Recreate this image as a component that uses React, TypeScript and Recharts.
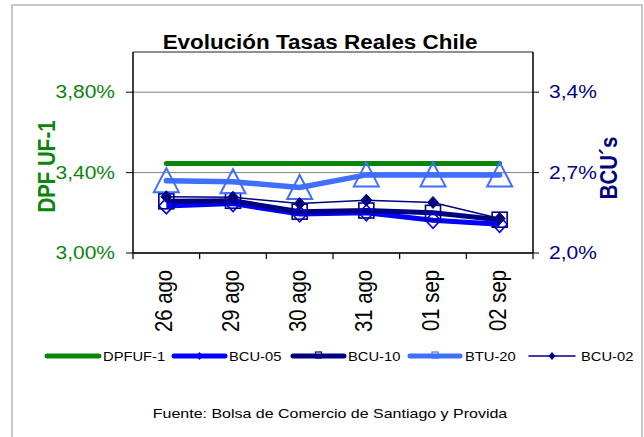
import React from 'react';
import { LineChart, Line, XAxis, YAxis, CartesianGrid, ReferenceLine } from 'recharts';

// ---- data ----
const categories = ['26 ago', '29 ago', '30 ago', '31 ago', '01 sep', '02 sep'];
const dpfUf1 = [3.445, 3.445, 3.445, 3.445, 3.445, 3.445];
const bcu05 = [2.41, 2.43, 2.34, 2.35, 2.285, 2.25];
const bcu10 = [2.45, 2.455, 2.36, 2.37, 2.35, 2.29];
const btu20 = [2.63, 2.62, 2.57, 2.68, 2.68, 2.68];
const bcu02 = [2.49, 2.485, 2.43, 2.46, 2.44, 2.3];
const leftTicks = [3.0, 3.4, 3.8];
const rightTicks = [2.0, 2.7, 3.4];
const leftDomain = [3.0, 4.0];
const rightDomain = [2.0, 3.75];
const seriesNames = ['DPFUF-1', 'BCU-05', 'BCU-10', 'BTU-20', 'BCU-02'];

const data = categories.map((cat, i) => ({
  cat,
  dpf: dpfUf1[i],
  bcu05: bcu05[i],
  bcu10: bcu10[i],
  btu20: btu20[i],
  bcu02: bcu02[i],
}));

const FONT = '"Liberation Sans", Arial, sans-serif';
const GREEN = '#0A850A';
const BLUE = '#0000FF';
const NAVY = '#000080';
const LBLUE = '#3F6FFF';

const fmtLeft = (v: number) => v.toFixed(2).replace('.', ',') + '%';
const fmtRight = (v: number) => v.toFixed(1).replace('.', ',') + '%';

// text with horizontal stretch (the reference is rendered slightly wide)
const SText = (props: any) => {
  const { x, y, sx = 1.2, rotate = 0, children, ...rest } = props;
  const rot = rotate ? ` rotate(${rotate})` : '';
  return (
    <text transform={`translate(${x},${y}) scale(${sx},1)${rot}`} fontFamily={FONT} {...rest}>
      {children}
    </text>
  );
};

const XTick = (props: any) => {
  const { x, y, payload, index, visibleTicksCount } = props;
  const off = payload && typeof payload.offset === 'number' && payload.offset > 0 ? payload.offset : 400 / 12;
  const isLast = index === (visibleTicksCount ?? categories.length) - 1;
  return (
    <g>
      <line x1={x - off} x2={x - off} y1={y} y2={y + 6} stroke="#000" strokeWidth={1.2} />
      {isLast && <line x1={x + off} x2={x + off} y1={y} y2={y + 6} stroke="#000" strokeWidth={1.2} />}
      <SText x={x + 6} y={y + 17} sx={1.15} rotate={-90} textAnchor="end" fontSize={20.3} fill="#000">
        {payload.value}
      </SText>
    </g>
  );
};

const LeftTick = (props: any) => {
  const { x, y, payload } = props;
  return (
    <SText x={x} y={y + 6.2} sx={1.2} textAnchor="end" fontSize={17.5} fill={GREEN}>
      {fmtLeft(payload.value)}
    </SText>
  );
};

const RightTick = (props: any) => {
  const { x, y, payload } = props;
  return (
    <SText x={x} y={y + 6.2} sx={1.2} textAnchor="start" fontSize={17.5} fill={NAVY}>
      {fmtRight(payload.value)}
    </SText>
  );
};

const triDot = (p: any) => {
  const { cx, cy, index } = p;
  if (cx == null || cy == null) return <g key={`t${index}`} />;
  return (
    <polygon
      key={`t${index}`}
      points={`${cx},${cy - 12.5} ${cx + 12.5},${cy + 11.5} ${cx - 12.5},${cy + 11.5}`}
      fill="none"
      stroke={LBLUE}
      strokeWidth={2}
    />
  );
};

const squareDot = (p: any) => {
  const { cx, cy, index } = p;
  if (cx == null || cy == null) return <g key={`s${index}`} />;
  return <rect key={`s${index}`} x={cx - 7.5} y={cy - 7.5} width={15} height={15} fill="none" stroke={NAVY} strokeWidth={1.6} />;
};

const hollowDiamond = (p: any) => {
  const { cx, cy, index } = p;
  if (cx == null || cy == null) return <g key={`d${index}`} />;
  return (
    <polygon
      key={`d${index}`}
      points={`${cx},${cy - 8} ${cx + 7.5},${cy} ${cx},${cy + 8} ${cx - 7.5},${cy}`}
      fill="none"
      stroke={BLUE}
      strokeWidth={1.6}
    />
  );
};

const filledDiamond = (p: any) => {
  const { cx, cy, index } = p;
  if (cx == null || cy == null) return <g key={`f${index}`} />;
  return (
    <polygon
      key={`f${index}`}
      points={`${cx},${cy - 6} ${cx + 5.5},${cy} ${cx},${cy + 6} ${cx - 5.5},${cy}`}
      fill={NAVY}
      stroke={NAVY}
      strokeWidth={1}
    />
  );
};

type LegendItem = { name: string; color: string; width: number; marker: string; lineX: number; lineW: number; textX: number };

const legendItems: LegendItem[] = [
  { name: seriesNames[0], color: GREEN, width: 5, marker: 'none', lineX: 45, lineW: 56, textX: 103 },
  { name: seriesNames[1], color: BLUE, width: 5, marker: 'diamond', lineX: 172, lineW: 55, textX: 229 },
  { name: seriesNames[2], color: NAVY, width: 5, marker: 'square', lineX: 291, lineW: 55, textX: 348 },
  { name: seriesNames[3], color: LBLUE, width: 5, marker: 'square', lineX: 408, lineW: 54, textX: 465 },
  { name: seriesNames[4], color: NAVY, width: 1.5, marker: 'diamond', lineX: 527, lineW: 50, textX: 581 },
];

const LEG_Y = 356;

const Overlay = () => (
  <svg width={644} height={437} style={{ position: 'absolute', left: 0, top: 0 }}>
    <SText x={320} y={49} sx={1.15} textAnchor="middle" fontSize={19.5} fontWeight="bold" fill="#000">
      Evolución Tasas Reales Chile
    </SText>
    <SText x={47 + 7.5} y={166.5} sx={1.2} rotate={-90} textAnchor="middle" fontSize={20.5} fontWeight="bold" fill={GREEN}>
      DPF UF-1
    </SText>
    <SText x={610 + 7} y={168} sx={1.13} rotate={-90} textAnchor="middle" fontSize={20.5} fontWeight="bold" fill={NAVY}>
      BCU´s
    </SText>
    {legendItems.map((it) => {
      const x1 = it.lineX + 2;
      const x2 = it.lineX + it.lineW - 2;
      const mx = it.lineX + it.lineW / 2;
      return (
        <g key={it.name}>
          <line x1={x1} x2={x2} y1={LEG_Y} y2={LEG_Y} stroke={it.color} strokeWidth={it.width} strokeLinecap="round" />
          {it.marker === 'diamond' && (
            <polygon points={`${mx},${LEG_Y - 4} ${mx + 3.5},${LEG_Y} ${mx},${LEG_Y + 4} ${mx - 3.5},${LEG_Y}`} fill={it.color} />
          )}
          {it.marker === 'square' && (
            <rect x={mx - 3} y={LEG_Y - 4} width={6} height={6} fill="none" stroke={it.color} strokeWidth={1.2} />
          )}
          <SText x={it.textX} y={LEG_Y + 4.8} sx={1.18} fontSize={12.5} fill="#000">
            {it.name}
          </SText>
        </g>
      );
    })}
    <SText x={330} y={418} sx={1.23} textAnchor="middle" fontSize={13} fill="#000">
      Fuente: Bolsa de Comercio de Santiago y Provida
    </SText>
  </svg>
);

export default function App() {
  return (
    <div style={{ position: 'absolute', left: 0, top: 0, width: 644, height: 437, overflow: 'hidden', background: '#fff' }}>
      <div
        style={{
          position: 'absolute',
          left: 11,
          top: 4,
          width: 628,
          height: 450,
          border: '2px solid #c8c8c8',
        }}
      />
      <Overlay />
      <div style={{ position: 'absolute', left: 0, top: 0 }}>
        <LineChart width={644} height={437} data={data} margin={{ top: 52, right: 11, bottom: 94, left: 30 }}>
          <CartesianGrid yAxisId="left" horizontal vertical={false} stroke="#808080" strokeWidth={1} />
          <XAxis
            dataKey="cat"
            scale="band"
            height={90}
            interval={0}
            tickSize={0}
            tickMargin={0}
            tickLine={false}
            axisLine={{ stroke: '#000', strokeWidth: 1.5 }}
            tick={<XTick />}
          />
          <YAxis
            yAxisId="left"
            orientation="left"
            width={103}
            domain={leftDomain}
            ticks={leftTicks}
            interval={0}
            type="number"
            allowDataOverflow
            tickSize={7}
            tickMargin={11}
            tickLine={{ stroke: '#000' }}
            axisLine={{ stroke: '#000', strokeWidth: 1.5 }}
            tick={<LeftTick />}
          />
          <YAxis
            yAxisId="right"
            orientation="right"
            width={100}
            domain={rightDomain}
            ticks={rightTicks}
            interval={0}
            type="number"
            allowDataOverflow
            tickSize={6}
            tickMargin={10}
            tickLine={{ stroke: '#000' }}
            axisLine={{ stroke: '#000', strokeWidth: 1.5 }}
            tick={<RightTick />}
          />
          <ReferenceLine yAxisId="left" y={leftDomain[1]} stroke="#808080" strokeWidth={1.5} />
          <Line
            yAxisId="left"
            type="linear"
            dataKey="dpf"
            name={seriesNames[0]}
            stroke={GREEN}
            strokeWidth={5}
            strokeLinecap="round"
            dot={false}
            activeDot={false}
            isAnimationActive={false}
          />
          <Line
            yAxisId="right"
            type="linear"
            dataKey="bcu05"
            name={seriesNames[1]}
            stroke={BLUE}
            strokeWidth={5}
            dot={hollowDiamond}
            activeDot={false}
            isAnimationActive={false}
          />
          <Line
            yAxisId="right"
            type="linear"
            dataKey="bcu10"
            name={seriesNames[2]}
            stroke={NAVY}
            strokeWidth={5}
            dot={squareDot}
            activeDot={false}
            isAnimationActive={false}
          />
          <Line
            yAxisId="right"
            type="linear"
            dataKey="btu20"
            name={seriesNames[3]}
            stroke={LBLUE}
            strokeWidth={5.5}
            strokeLinecap="round"
            dot={triDot}
            activeDot={false}
            isAnimationActive={false}
          />
          <Line
            yAxisId="right"
            type="linear"
            dataKey="bcu02"
            name={seriesNames[4]}
            stroke={NAVY}
            strokeWidth={1.5}
            dot={filledDiamond}
            activeDot={false}
            isAnimationActive={false}
          />
        </LineChart>
      </div>
    </div>
  );
}
